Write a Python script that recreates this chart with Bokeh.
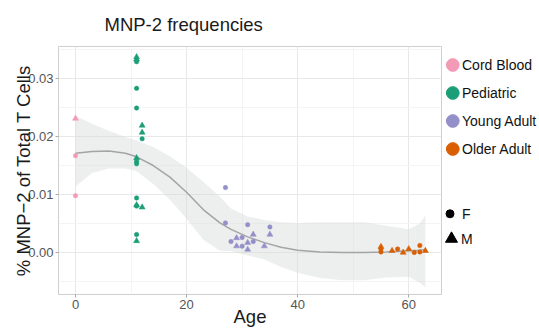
from bokeh.plotting import figure
from bokeh.layouts import row
from bokeh.models import Range1d, FixedTicker, PrintfTickFormatter, ColumnDataSource
from bokeh.core.properties import value
from bokeh.embed import file_html
from bokeh.resources import INLINE

FONT = "Liberation Sans"

# ---------------- data ----------------
groups = ["Cord Blood", "Pediatric", "Young Adult", "Older Adult"]
group_colors = ["#F39AB6", "#1B9E77", "#938FC8", "#D95F02"]
sexes = ["F", "M"]

cord_age = [0, 0, 0]
cord_val = [0.0231, 0.0167, 0.0098]
cord_sex = ["M", "F", "F"]

ped_age = [11, 11, 11, 11, 11, 12, 12, 12, 11, 11, 11, 11, 11, 11, 12, 11, 11]
ped_val = [0.0337, 0.0333, 0.0329, 0.0283, 0.0249, 0.0219, 0.0207, 0.0196, 0.0163,
           0.0157, 0.0153, 0.0094, 0.0082, 0.0080, 0.0078, 0.0031, 0.0020]
ped_sex = ["M", "M", "F", "F", "F", "M", "M", "F", "M", "F", "F", "F", "M", "F", "M", "F", "M"]

young_age = [27, 27, 28, 29, 29, 30, 30, 31, 31, 31, 32, 32, 34, 35, 35]
young_val = [0.0112, 0.0051, 0.0019, 0.0025, 0.0011, 0.0026, 0.0011, 0.0048, 0.0017,
             0.0005, 0.0031, 0.0019, 0.0011, 0.0044, 0.0031]
young_sex = ["F", "F", "F", "M", "M", "F", "F", "F", "M", "M", "M", "F", "M", "F", "M"]

older_age = [55, 55, 55, 57, 58, 59, 60, 61, 62, 62, 63]
older_val = [0.0010, 0.0006, 0.0001, 0.0003, 0.0006, 0.0000, 0.0006, 0.0000, 0.0012, 0.0001, 0.0003]
older_sex = ["M", "F", "F", "M", "F", "M", "M", "F", "F", "F", "M"]

# loess fit
fit_age = [0, 3, 6, 9, 11, 14, 17, 20, 23, 26, 28, 31, 34, 37, 40, 44, 48, 52, 56, 60, 62, 63]
fit_mid = [0.0171, 0.0174, 0.0175, 0.0171, 0.0165, 0.0150, 0.0130, 0.0104, 0.0074, 0.0051,
           0.0040, 0.0027, 0.0017, 0.0009, 0.0004, 0.0001, 0.0000, 0.0000, 0.0001, 0.0003,
           0.0004, 0.0005]
fit_hi = [0.0236, 0.0222, 0.0210, 0.0199, 0.0193, 0.0182, 0.0166, 0.0146, 0.0122, 0.0096,
          0.0076, 0.0062, 0.0056, 0.0052, 0.0051, 0.0052, 0.0052, 0.0052, 0.0046, 0.0040,
          0.0050, 0.0064]
fit_lo = [0.0114, 0.0137, 0.0145, 0.0145, 0.0140, 0.0118, 0.0091, 0.0058, 0.0022, 0.0003,
          0.0002, -0.0005, -0.0012, -0.0025, -0.0035, -0.0044, -0.0048, -0.0048, -0.0043,
          -0.0042, -0.0052, -0.0060]

x_ticks = [0, 20, 40, 60]
y_ticks = [0.00, 0.01, 0.02, 0.03]

# ---------------- main figure ----------------
p = figure(frame_width=383, frame_height=248, output_backend="svg", toolbar_location=None,
           x_range=Range1d(-3.06, 65.9), y_range=Range1d(-0.00724, 0.03552),
           min_border_left=58, min_border_right=2, min_border_top=46, min_border_bottom=35,
           background_fill_color="white", border_fill_color="white",
           title="MNP-2 frequencies")
p.outline_line_color = "#CFCFCF"
p.outline_line_width = 1

p.title.text_font = FONT
p.title.text_font_size = "18.5px"
p.title.text_font_style = "normal"
p.title.text_color = "#1A1A1A"
p.title.align = "left"
p.title.offset = 46
p.title.standoff = 23

p.xaxis.axis_label = "Age"
p.yaxis.axis_label = "% MNP\u22122 of Total T Cells"
p.xaxis.ticker = FixedTicker(ticks=x_ticks, minor_ticks=[-10, 10, 30, 50])
p.yaxis.ticker = FixedTicker(ticks=y_ticks, minor_ticks=[-0.005, 0.005, 0.015, 0.025, 0.035])
p.yaxis.formatter = PrintfTickFormatter(format="%.2f")
for ax in (p.xaxis, p.yaxis):
    ax.axis_line_color = None
    ax.major_tick_line_color = "#A8A8A8"
    ax.major_tick_out = 3
    ax.major_tick_in = 0
    ax.minor_tick_line_color = None
    ax.major_label_text_font = FONT
    ax.major_label_text_font_size = "13px"
    ax.major_label_text_color = "#555555"
    ax.major_label_standoff = 1
    ax.axis_label_text_font = FONT
    ax.axis_label_text_font_size = "18.5px"
    ax.axis_label_text_font_style = "normal"
    ax.axis_label_text_color = "#1A1A1A"
p.xaxis.axis_label_standoff = -6
p.yaxis.axis_label_standoff = -9
p.grid.grid_line_color = "#E8E8E8"
p.grid.minor_grid_line_color = "#F4F4F4"

p.varea(x=fit_age, y1=fit_lo, y2=fit_hi, fill_color="#D3D8D8", fill_alpha=0.42)
p.line(x=fit_age, y=fit_mid, line_color="#A4A4A4", line_width=1.5)

for ages, vals, sx, col in [(cord_age, cord_val, cord_sex, group_colors[0]),
                            (ped_age, ped_val, ped_sex, group_colors[1]),
                            (young_age, young_val, young_sex, group_colors[2]),
                            (older_age, older_val, older_sex, group_colors[3])]:
    src = ColumnDataSource(dict(x=ages, y=vals,
                                m=["circle" if s == "F" else "triangle" for s in sx],
                                s=[4.5 if s == "F" else 6 for s in sx]))
    p.scatter(x="x", y="y", marker="m", size="s", source=src,
              fill_color=col, line_color=col, line_width=0.5)

# ---------------- legend figure (frame aligned with main frame: page y 46..294) ----------------
lf = figure(width=96, height=329, output_backend="svg", toolbar_location=None,
            x_range=Range1d(0, 96), y_range=Range1d(294, 46),
            x_axis_type=None, y_axis_type=None, min_border=0,
            background_fill_color="white", border_fill_color="white")
lf.outline_line_color = None
lf.grid.visible = False

leg_y = [64.5 + 28 * i for i in range(len(groups))]
lf.scatter(x=[9.3] * len(groups), y=leg_y, marker="circle", size=12.7,
           fill_color=group_colors, line_color=group_colors)
lf.text(x=[18.5] * len(groups), y=leg_y, text=groups, text_baseline="middle",
        text_font=value(FONT), text_font_size="14px", text_color="#111111")

sex_y = [213.3 + 25 * i for i in range(len(sexes))]
lf.scatter(x=[6.5, 8], y=sex_y, marker=["circle", "triangle"], size=[8, 12],
           fill_color="black", line_color="black")
lf.text(x=[18.5, 17.5], y=sex_y, text=sexes, text_baseline="middle",
        text_font=value(FONT), text_font_size="14px", text_color="#111111")

layout = row(p, lf)
open("out.html", "w").write(file_html(layout, INLINE))
